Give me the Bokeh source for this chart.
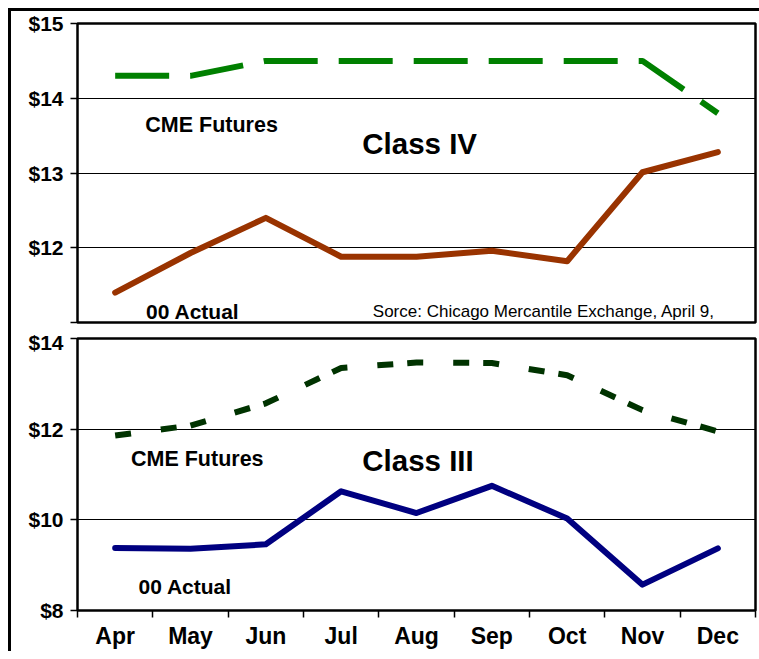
from bokeh.plotting import figure
from bokeh.layouts import column
from bokeh.models import Range1d, FixedTicker, PrintfTickFormatter, Label
from bokeh.embed import file_html
from bokeh.resources import INLINE

months = ["Apr", "May", "Jun", "Jul", "Aug", "Sep", "Oct", "Nov", "Dec"]
class4_futures = [14.3, 14.3, 14.5, 14.5, 14.5, 14.5, 14.5, 14.5, 13.8]
class4_actual = [11.4, 11.93, 12.4, 11.88, 11.88, 11.96, 11.82, 13.01, 13.28]
class3_futures = [11.86, 12.08, 12.57, 13.35, 13.47, 13.46, 13.19, 12.42, 11.95]
class3_actual = [9.38, 9.36, 9.46, 10.63, 10.15, 10.75, 10.03, 8.57, 9.37]
class4_ticks = [12, 13, 14, 15]
class3_ticks = [8, 10, 12, 14]

FONT = "Liberation Sans"
xs = [i + 0.5 for i in range(len(months))]
bounds = list(range(len(months) + 1))


def make_fig(height, y0, y1, ticks, minor, mb_top, mb_bottom, x_loc):
    p = figure(width=748, height=height, x_range=Range1d(0, len(months)),
               y_range=Range1d(y0, y1), output_backend="svg", toolbar_location=None,
               min_border_left=66, min_border_right=4, min_border_top=mb_top,
               min_border_bottom=mb_bottom, x_axis_location=x_loc)
    p.outline_line_color = "black"
    p.outline_line_width = 2.5
    p.xgrid.visible = False
    p.ygrid.grid_line_color = "black"
    p.ygrid.grid_line_width = 1
    p.yaxis.ticker = FixedTicker(ticks=ticks, minor_ticks=minor)
    p.yaxis.formatter = PrintfTickFormatter(format="$%d")
    p.yaxis.axis_line_color = None
    p.yaxis.major_tick_in = 0
    p.yaxis.major_tick_out = 7
    p.yaxis.major_tick_line_width = 1.5
    p.yaxis.minor_tick_in = 0
    p.yaxis.minor_tick_out = 7
    p.yaxis.minor_tick_line_width = 1.5
    p.yaxis.minor_tick_line_color = "black"
    p.yaxis.major_label_standoff = 7
    p.yaxis.major_label_text_font = FONT
    p.yaxis.major_label_text_font_style = "bold"
    p.yaxis.major_label_text_font_size = "21px"
    p.yaxis.major_label_text_color = "black"
    return p


# ---- Top panel: Class IV ----
p1 = make_fig(319, 11, 15, class4_ticks, [11], 12, 8, None)
p1.line(xs, class4_futures, line_color="#008000", line_width=6, line_dash="54 21")
p1.line(xs, class4_actual, line_color="#993300", line_width=6,
        line_cap="round", line_join="round")

def lab(p, x, y, text, size, bold=True):
    p.add_layout(Label(x=x, y=y, text=text, text_font=FONT,
                       text_font_style="bold" if bold else "normal",
                       text_font_size=size, text_baseline="middle",
                       text_align="left", text_color="black"))

lab(p1, 0.90, 13.64, "CME Futures", "21.5px")
lab(p1, 3.78, 13.39, "Class IV", "29.5px")
lab(p1, 0.91, 11.15, "00 Actual", "21px")
lab(p1, 3.92, 11.15, "Sorce: Chicago Mercantile Exchange, April 9,", "17px", bold=False)

# ---- Bottom panel: Class III ----
p2 = make_fig(321, 8, 14, class3_ticks, [], 8, 40, "below")
p2.line(xs, class3_futures, line_color="#003300", line_width=6, line_dash="16 30 16 14")
p2.line(xs, class3_actual, line_color="#000080", line_width=6,
        line_cap="round", line_join="round")
p2.xaxis.ticker = FixedTicker(ticks=xs, minor_ticks=bounds)
p2.xaxis.major_label_overrides = {x: m for x, m in zip(xs, months)}
p2.xaxis.axis_line_color = None
p2.xaxis.major_tick_line_color = None
p2.xaxis.major_tick_in = 0
p2.xaxis.major_tick_out = 0
p2.xaxis.minor_tick_in = 0
p2.xaxis.minor_tick_out = 7
p2.xaxis.minor_tick_line_color = "black"
p2.xaxis.minor_tick_line_width = 1.5
p2.xaxis.major_label_standoff = 5
p2.xaxis.major_label_text_font = FONT
p2.xaxis.major_label_text_font_style = "bold"
p2.xaxis.major_label_text_font_size = "23px"
p2.xaxis.major_label_text_color = "black"

lab(p2, 0.71, 11.35, "CME Futures", "21.5px")
lab(p2, 3.78, 11.30, "Class III", "29.5px")
lab(p2, 0.81, 8.52, "00 Actual", "21px")

layout = column(p1, p2, spacing=0,
                styles={"border-top": "3px solid black", "border-left": "3px solid black",
                        "margin-top": "8px", "margin-left": "8px"})

open("out.html", "w").write(file_html(layout, INLINE))
